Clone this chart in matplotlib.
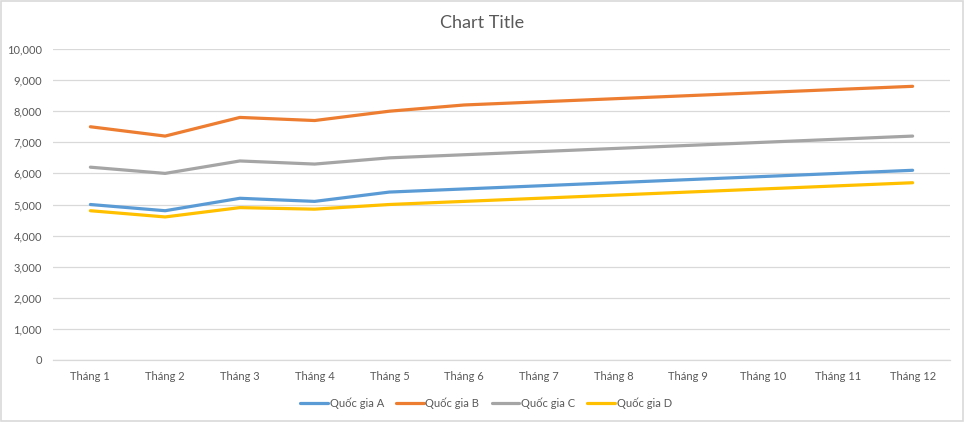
import matplotlib
matplotlib.use("Agg")
import matplotlib.pyplot as plt
from matplotlib.patches import Rectangle
from matplotlib.ticker import FuncFormatter

categories = ["Tháng 1", "Tháng 2", "Tháng 3", "Tháng 4", "Tháng 5", "Tháng 6",
              "Tháng 7", "Tháng 8", "Tháng 9", "Tháng 10", "Tháng 11", "Tháng 12"]
quoc_gia_a = [5000, 4800, 5200, 5100, 5400, 5500, 5600, 5700, 5800, 5900, 6000, 6100]
quoc_gia_b = [7500, 7200, 7800, 7700, 8000, 8200, 8300, 8400, 8500, 8600, 8700, 8800]
quoc_gia_c = [6200, 6000, 6400, 6300, 6500, 6600, 6700, 6800, 6900, 7000, 7100, 7200]
quoc_gia_d = [4800, 4600, 4900, 4850, 5000, 5100, 5200, 5300, 5400, 5500, 5600, 5700]
series_names = ["Quốc gia A", "Quốc gia B", "Quốc gia C", "Quốc gia D"]
y_ticks = [0, 1000, 2000, 3000, 4000, 5000, 6000, 7000, 8000, 9000, 10000]

colors = ["#5B9BD5", "#ED7D31", "#A5A5A5", "#FFC000"]
text_color = "#595959"
grid_color = "#D9D9D9"

plt.rcParams['font.family'] = ['Lato', 'DejaVu Sans']

fig = plt.figure(figsize=(9.64, 4.22), dpi=100)
ax = fig.add_axes([53/964, 1 - 360/422, (950-53)/964, (360-49)/422])

x = list(range(len(categories)))
for vals, name, c in zip([quoc_gia_a, quoc_gia_b, quoc_gia_c, quoc_gia_d], series_names, colors):
    ax.plot(x, vals, color=c, linewidth=2.3, label=name, solid_capstyle='round')

ax.set_xlim(-0.5, len(categories) - 0.5)
ax.set_ylim(0, 10000)
ax.set_yticks(y_ticks)
ax.yaxis.set_major_formatter(FuncFormatter(lambda v, p: f"{int(v):,}"))
ax.set_xticks(x)
ax.set_xticklabels(categories)
ax.tick_params(axis='both', length=0, labelsize=8, labelcolor=text_color)
ax.tick_params(axis='y', pad=8)
ax.tick_params(axis='x', pad=8)
ax.grid(axis='y', color=grid_color, linewidth=0.9)
ax.set_axisbelow(True)
for s in ['top', 'right', 'left']:
    ax.spines[s].set_visible(False)
ax.spines['bottom'].set_color(grid_color)
ax.spines['bottom'].set_linewidth(0.9)

fig.text(482/964, 1 - 23/422, "Chart Title", ha='center', va='center',
         fontsize=13, color=text_color)

handles, labels = ax.get_legend_handles_labels()
fig.legend(handles, labels, loc='center', bbox_to_anchor=(486/964, 1 - 403/422),
           ncol=4, frameon=False, fontsize=8, labelcolor=text_color,
           handlelength=2.5, handletextpad=0.15, columnspacing=1.1)

fig.patches.append(Rectangle((0.0008, 0.002), 0.9984, 0.996, transform=fig.transFigure,
                             fill=False, edgecolor=grid_color, linewidth=1.2))

fig.savefig("out.png", dpi=100, facecolor="white")
